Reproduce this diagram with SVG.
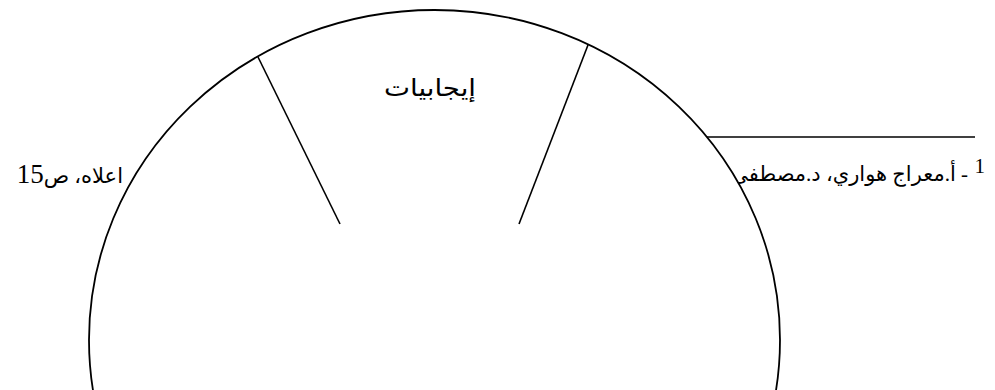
<svg xmlns="http://www.w3.org/2000/svg" width="995" height="390" viewBox="0 0 995 390">
<style>
.foot{font-family:"Liberation Serif","DejaVu Sans",serif;font-size:21px;fill:#000}
.lbl{font-family:"DejaVu Sans","Liberation Sans",sans-serif;font-size:24px;fill:#000}
.ln{stroke:#000;stroke-width:1.6;fill:none}
</style>
<rect width="995" height="390" fill="#fff"/>
<g id="footnote">
<text class="foot" x="985" y="173" font-size="13" text-anchor="end">1</text>
<text class="foot" x="968" y="181" direction="rtl" text-anchor="start">- أ.معراج هواري، د.مصطفى</text>
<text class="foot" x="123" y="183" direction="rtl" text-anchor="start" font-size="22">اعلاه، ص<tspan font-size="27">15</tspan></text>
<line class="ln" x1="650" y1="137" x2="975" y2="137"/>
</g>
<g id="circle">
<ellipse cx="434.5" cy="340" rx="345.5" ry="330" fill="#fff" stroke="#000" stroke-width="1.8"/>
</g>
<g id="connectors">
<line class="ln" x1="258" y1="57" x2="340" y2="224"/>
<line class="ln" x1="588" y1="45" x2="519" y2="224"/>
</g>
<g id="label">
<text class="lbl" x="430" y="96" text-anchor="middle" textLength="92" lengthAdjust="spacingAndGlyphs">إيجابيات</text>
</g>
</svg>
